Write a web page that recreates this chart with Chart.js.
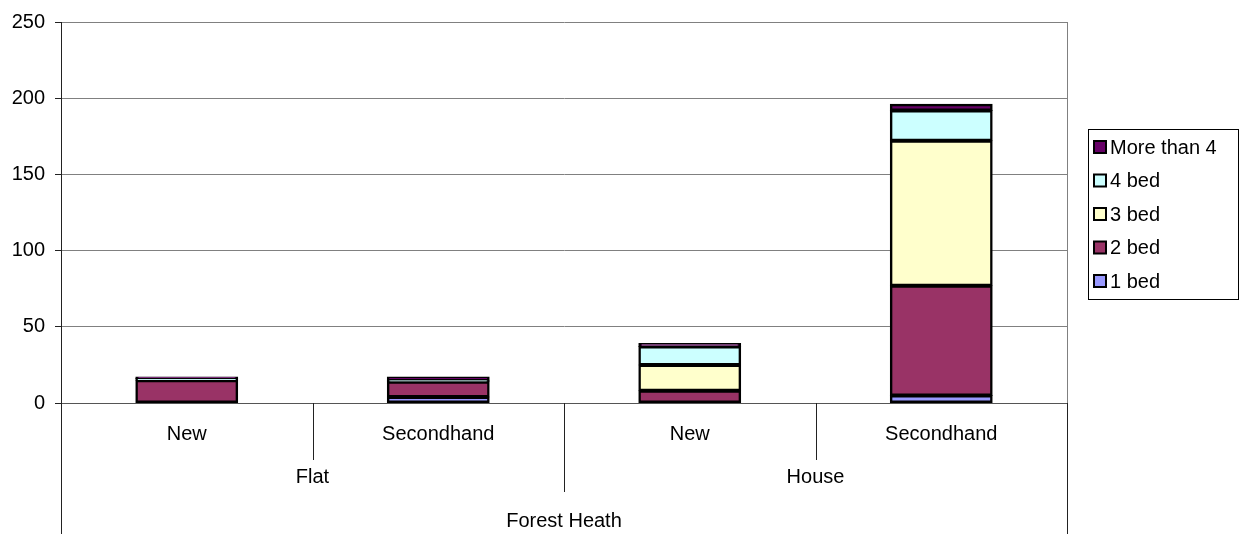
<!DOCTYPE html>
<html>
<head>
<meta charset="utf-8">
<script src="https://cdn.jsdelivr.net/npm/chart.js@4"></script>
<style>
  html, body { margin: 0; padding: 0; background: #fff; }
  #wrap { width: 1247px; height: 534px; }
</style>
</head>
<body>
<div id="wrap"><canvas id="chart" width="1247" height="534"></canvas></div>
<script>
const categories = ['New', 'Secondhand', 'New', 'Secondhand'];
const groups = ['Flat', 'House'];
const region = 'Forest Heath';
const seriesNames = ['1 bed', '2 bed', '3 bed', '4 bed', 'More than 4'];
const oneBed = [0, 4, 0, 5];
const twoBed = [15, 10, 8, 72];
const threeBed = [0, 0, 17, 95];
const fourBed = [1, 1, 12, 20];
const moreThan4 = [1, 2, 2, 4];
const yTicks = [0, 50, 100, 150, 200, 250];

const colors = ['#9999FF', '#993366', '#FFFFCC', '#CCFFFF', '#660066'];
const FONT = '"Liberation Sans", Arial, sans-serif';

const datasets = [oneBed, twoBed, threeBed, fourBed, moreThan4].map((d, i) => ({
  label: seriesNames[i],
  data: d,
  backgroundColor: colors[i],
  borderColor: '#000',
  borderWidth: 2.5,
  borderSkipped: false,
  inflateAmount: 0.5,
  barPercentage: 0.405,
  categoryPercentage: 1
}));

// multi-level category axis, plot frame and boxed legend
const extras = {
  id: 'extras',
  afterDraw(chart) {
    const { ctx, chartArea, scales } = chart;
    const xs = scales.x;
    const n = categories.length;
    const step = xs.getPixelForValue(1) - xs.getPixelForValue(0);
    const edge = i => xs.getPixelForValue(0) - step / 2 + i * step;
    const H = chart.height;
    ctx.save();

    // right frame of plot area
    ctx.strokeStyle = '#808080';
    ctx.lineWidth = 1;
    ctx.beginPath();
    ctx.moveTo(Math.round(chartArea.right) + 0.5, chartArea.top);
    ctx.lineTo(Math.round(chartArea.right) + 0.5, chartArea.bottom);
    ctx.stroke();

    // separators under the axis
    ctx.strokeStyle = '#222';
    for (let i = 0; i <= n; i++) {
      let len = 57;
      if (i === 0 || i === n) len = H - chartArea.bottom;
      else if (i % 2 === 0) len = 89;
      const x = Math.round(edge(i)) + 0.5;
      ctx.beginPath();
      ctx.moveTo(x, chartArea.bottom);
      ctx.lineTo(x, chartArea.bottom + len);
      ctx.stroke();
    }

    ctx.fillStyle = '#000';
    ctx.font = '20px ' + FONT;
    ctx.textAlign = 'center';
    ctx.textBaseline = 'middle';
    groups.forEach((g, k) => {
      ctx.fillText(g, (edge(k * 2) + edge(k * 2 + 2)) / 2, chartArea.bottom + 74);
    });
    ctx.fillText(region, (edge(0) + edge(n)) / 2, chartArea.bottom + 118);

    // legend
    const lx = chartArea.right + 21, ly = chartArea.top + 107, lw = 150, lh = 170;
    ctx.lineWidth = 1;
    ctx.strokeStyle = '#000';
    ctx.strokeRect(lx + 0.5, ly + 0.5, lw, lh);
    ctx.textAlign = 'left';
    const ds = chart.data.datasets;
    for (let j = ds.length - 1, row = 0; j >= 0; j--, row++) {
      const cy = ly + 18 + row * 33.5;
      ctx.fillStyle = ds[j].backgroundColor;
      ctx.fillRect(lx + 6, cy - 6, 12, 12);
      ctx.lineWidth = 2;
      ctx.strokeStyle = '#000';
      ctx.strokeRect(lx + 6, cy - 6, 12, 12);
      ctx.fillStyle = '#000';
      ctx.fillText(ds[j].label, lx + 22, cy + 1);
    }
    ctx.restore();
  }
};

new Chart(document.getElementById('chart'), {
  type: 'bar',
  data: { labels: categories, datasets },
  options: {
    responsive: false,
    animation: false,
    layout: { padding: { top: 21, right: 180, left: 0, bottom: 0 } },
    plugins: { legend: { display: false }, tooltip: { enabled: false } },
    scales: {
      x: {
        stacked: true,
        offset: true,
        grid: { display: false },
        border: { display: true, color: '#555', width: 1 },
        ticks: { color: '#000', font: { family: FONT, size: 20 }, padding: 11, maxRotation: 0, autoSkip: false },
        afterFit(scale) { scale.height = 131; }
      },
      y: {
        stacked: true,
        min: 0,
        max: 250,
        afterBuildTicks(scale) { scale.ticks = yTicks.map(v => ({ value: v })); },
        grid: { color: '#808080', tickLength: 6, tickColor: '#222' },
        border: { display: true, color: '#222', width: 1 },
        ticks: { color: '#000', font: { family: FONT, size: 20 }, padding: 10 },
        afterFit(scale) { scale.width = 61; }
      }
    }
  },
  plugins: [extras]
});
</script>
</body>
</html>
